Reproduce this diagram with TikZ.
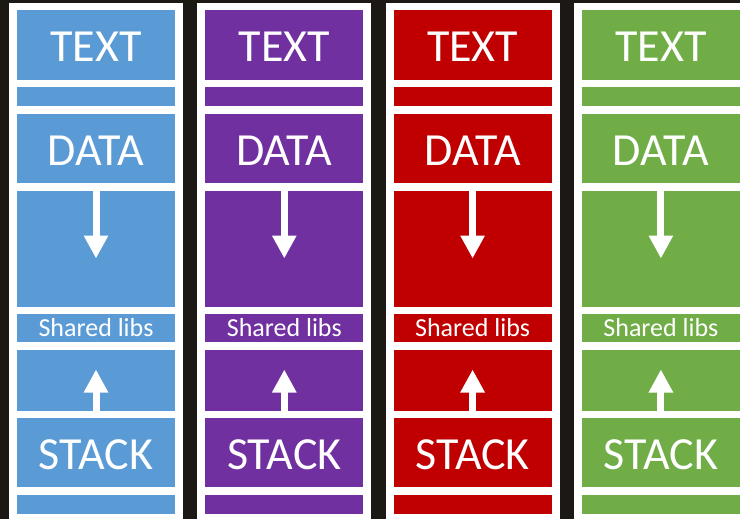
\documentclass[tikz,border=0pt]{standalone}
\usepackage{fontspec}
\setmainfont{Carlito}
\usetikzlibrary{positioning,arrows.meta}
\definecolor{bgdark}{HTML}{1C1915}
\definecolor{segblue}{HTML}{5B9BD5}
\definecolor{segpurple}{HTML}{7030A0}
\definecolor{segred}{HTML}{C00000}
\definecolor{seggreen}{HTML}{70AD47}
\tikzset{seg/.style={rectangle,inner sep=0pt,outer sep=0pt,minimum width=158pt,text=white},
	 bigseg/.style={seg,font=\fontsize{46}{50}\selectfont,text height=33pt,text depth=0pt},
	 libseg/.style={seg,font=\fontsize{26}{30}\selectfont},
	 growarrow/.style={draw=white,line width=7pt,-{Triangle[width=23pt,length=23pt]}},
	 node distance = 7.5pt
	 }

\begin{document}
\begin{tikzpicture}% process memory layouts
        \useasboundingbox (0,0) rectangle (740pt,-519pt);
        \fill[bgdark] (0,0) rectangle (740pt,-519pt);
        \clip (0,0) rectangle (740pt,-519pt);
        \foreach \c [count=\i] in {segblue,segpurple,segred,seggreen}{
          \fill[white] ({96pt+188.3pt*(\i-1)-87pt},-3pt) rectangle ++(174pt,-530pt);
          \node[bigseg,fill=\c,minimum height=70pt,anchor=north] (text\i) at ({96pt+188.3pt*(\i-1)},-10pt) {TEXT};
          \node[seg,fill=\c,minimum height=19pt] (bss\i) [below=of text\i] {};
          \node[bigseg,fill=\c,minimum height=69pt] (data\i) [below=of bss\i] {DATA};
          \node[seg,fill=\c,minimum height=116pt] (heap\i) [below=of data\i] {};
          \node[libseg,fill=\c,minimum height=28pt] (libs\i) [below=of heap\i] {Shared libs};
          \node[seg,fill=\c,minimum height=61pt] (free\i) [below=of libs\i] {};
          \node[bigseg,fill=\c,minimum height=69pt] (stack\i) [below=of free\i] {STACK};
          \node[seg,fill=\c,minimum height=19pt] (env\i) [below=of stack\i] {};
          \coordinate (heaptip\i) at ([yshift=-68pt]heap\i.north);
          \coordinate (stacktip\i) at ([yshift=41pt]free\i.south);
          \draw[growarrow] (heap\i.north) to (heaptip\i);
          \draw[growarrow] (free\i.south) to (stacktip\i);
        }
\end{tikzpicture}
\end{document}
